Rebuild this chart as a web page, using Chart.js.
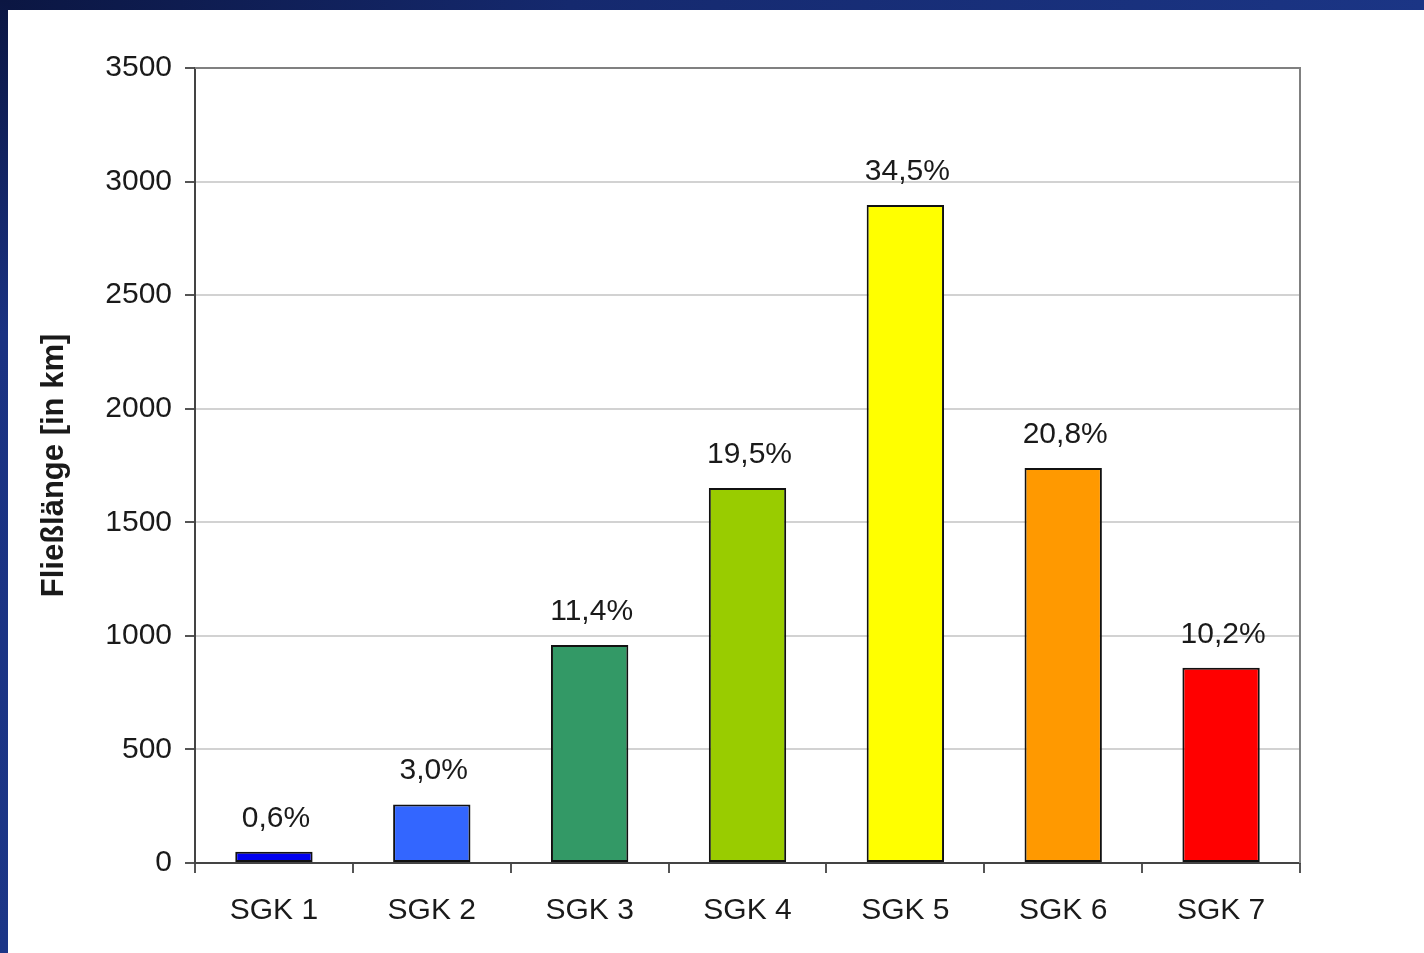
<!DOCTYPE html>
<html>
<head>
<meta charset="utf-8">
<script src="https://cdn.jsdelivr.net/npm/chart.js@4.4.1/dist/chart.umd.min.js"></script>
<style>
  html, body { margin: 0; padding: 0; background: #ffffff; width: 1424px; height: 953px; overflow: hidden; }
  #wrap { position: absolute; left: 0; top: 0; width: 1424px; height: 953px; }
  #topbar { position: absolute; left: 0; top: 0; width: 1424px; height: 10px;
    background: linear-gradient(to right, #0b1642 0%, #15296e 40%, #1b3585 100%); }
  #leftbar { position: absolute; left: 0; top: 0; width: 8px; height: 953px;
    background: linear-gradient(to bottom, #0b1642 0%, #1a3282 35%, #1c3687 100%); }
</style>
</head>
<body>
<div id="wrap"><canvas id="c" width="1424" height="953"></canvas></div>
<div id="topbar"></div>
<div id="leftbar"></div>
<script>
const categories = ['SGK 1', 'SGK 2', 'SGK 3', 'SGK 4', 'SGK 5', 'SGK 6', 'SGK 7'];
const lengthsKm = [50, 258, 960, 1651, 2897, 1739, 860];
const shareLabels = ['0,6%', '3,0%', '11,4%', '19,5%', '34,5%', '20,8%', '10,2%'];
const barColors = ['#0000ee', '#3366ff', '#339966', '#99cc00', '#ffff00', '#ff9900', '#ff0000'];
const yTicks = [0, 500, 1000, 1500, 2000, 2500, 3000, 3500];
const yTitle = 'Fließlänge [in km]';

const FONT = "'Liberation Sans', Arial, sans-serif";
const TEXT = '#1a1a1a';

const framePlugin = {
  id: 'frame',
  beforeDatasetsDraw(chart) {
    const { ctx, chartArea: a } = chart;
    ctx.save();
    ctx.strokeStyle = '#808080';
    ctx.lineWidth = 2;
    ctx.beginPath();
    ctx.moveTo(a.left, a.top);
    ctx.lineTo(a.right, a.top);
    ctx.lineTo(a.right, a.bottom);
    ctx.stroke();
    ctx.restore();
  }
};

const labelPlugin = {
  id: 'barLabels',
  afterDatasetsDraw(chart) {
    const { ctx } = chart;
    const meta = chart.getDatasetMeta(0);
    ctx.save();
    ctx.font = '30px ' + FONT;
    ctx.fillStyle = TEXT;
    ctx.textAlign = 'center';
    ctx.textBaseline = 'alphabetic';
    meta.data.forEach((el, i) => {
      ctx.fillText(shareLabels[i], el.x + 2, el.y - 25);
    });
    ctx.restore();
  }
};

new Chart(document.getElementById('c'), {
  type: 'bar',
  data: {
    labels: categories,
    datasets: [{
      data: lengthsKm,
      backgroundColor: barColors,
      borderColor: '#111111',
      borderWidth: 2,
      borderSkipped: false,
      barPercentage: 0.49,
      categoryPercentage: 1.0
    }]
  },
  options: {
    responsive: false,
    animation: false,
    devicePixelRatio: 1,
    layout: { padding: { left: 0, top: 68, right: 124, bottom: 0 } },
    plugins: { legend: { display: false }, tooltip: { enabled: false } },
    scales: {
      x: {
        afterFit(s) { s.height = 90; },
        grid: { drawOnChartArea: false, drawTicks: true, tickLength: 10, color: '#555555', tickColor: '#555555', lineWidth: 2, offset: true },
        border: { color: '#444444', width: 2 },
        ticks: { color: TEXT, font: { family: FONT, size: 30 }, padding: 20, maxRotation: 0 }
      },
      y: {
        min: 0,
        max: 3500,
        afterFit(s) { s.width = 195; },
        afterBuildTicks(s) { s.ticks = yTicks.map(v => ({ value: v })); },
        grid: { color: '#d2d2d2', lineWidth: 2, tickColor: '#555555', tickLength: 10, drawTicks: true },
        border: { color: '#444444', width: 2 },
        ticks: { color: TEXT, font: { family: FONT, size: 30 }, padding: 13, callback: v => String(v) },
        title: { display: true, text: yTitle, color: TEXT, font: { family: FONT, size: 31, weight: 'bold' }, padding: { top: 36, bottom: 0 } }
      }
    }
  },
  plugins: [framePlugin, labelPlugin]
});
</script>
</body>
</html>
